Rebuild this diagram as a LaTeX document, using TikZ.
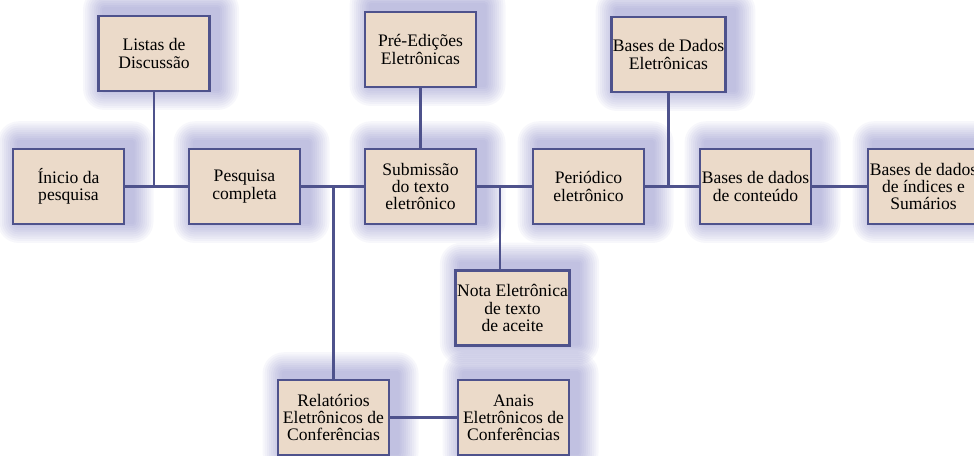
\documentclass[tikz,border=0pt]{standalone}
\usepackage{fontspec}
\setmainfont{Liberation Serif}
\usepackage{xcolor}
\definecolor{boxfill}{RGB}{235,218,201}
\definecolor{boxline}{RGB}{78,82,140}
\definecolor{glow}{RGB}{80,80,170}
\usetikzlibrary{positioning,calc,backgrounds}

\begin{document}
\begin{tikzpicture}[
  item/.style={draw=boxline,line width=1.6pt,fill=boxfill,minimum width=2.22cm,
    minimum height=1.5cm,align=center,font=\fontsize{10}{9.8}\selectfont,inner sep=1pt},
  link/.style={draw=boxline,line width=1.7pt}
]
  \useasboundingbox (0,0) rectangle (19.48,-9.12);
  % top row
  \node[item] (listas) at (3.08,-1.07) {Listas de\\Discussão};
  \node[item] (preed) at (8.41,-0.99) {Pré-Edições\\Eletrônicas};
  \node[item] (bdeletr) at (13.37,-1.09) {Bases de Dados\\Eletrônicas};
  % main row
  \node[item] (inicio) at (1.37,-3.73) {Ínicio da\\pesquisa};
  \node[item] (pesquisa) at (4.89,-3.73) {Pesquisa\\completa};
  \node[item] (submissao) at (8.41,-3.73) {Submissão\\do texto\\eletrônico};
  \node[item] (periodico) at (11.77,-3.73) {Periódico\\eletrônico};
  \node[item] (conteudo) at (15.11,-3.73) {Bases de dados\\de conteúdo};
  \node[item] (indices) at (18.47,-3.73) {Bases de dados\\de índices e\\Sumários};
  % lower rows
  \node[item] (nota) at (10.25,-6.16) {Nota Eletrônica\\de texto\\de aceite};
  \node[item] (relatorios) at (6.67,-8.35) {Relatórios\\Eletrônicos de\\Conferências};
  \node[item] (anais) at (10.27,-8.35) {Anais\\Eletrônicos de\\Conferências};
  \coordinate (jnota) at (10.0,-3.73);

  % soft glow behind the boxes
  \begin{scope}[on background layer]
    \foreach \n in {listas,preed,bdeletr,inicio,pesquisa,submissao,periodico,conteudo,indices,nota,relatorios,anais}
      \foreach \r in {1,...,10}
        \fill[glow,opacity=0.045,rounded corners=1.2*\r pt]
          ([shift={(4pt-1.2*\r pt,2pt-1.2*\r pt)}]\n.south west)
          rectangle ([shift={(4pt+1.2*\r pt,3pt+1.2*\r pt)}]\n.north east);
  \end{scope}

  \draw[link] (inicio) -- (pesquisa);
  \draw[link] (pesquisa) -- (submissao);
  \draw[link] (submissao) -- (periodico);
  \draw[link] (periodico) -- (conteudo);
  \draw[link] (conteudo) -- (indices);
  \draw[link] (listas.south) -- (listas.south |- inicio.east);
  \draw[link] (preed) -- (submissao);
  \draw[link] (bdeletr.south) -- (bdeletr.south |- periodico.east);
  \draw[link] (relatorios.north) -- (relatorios.north |- pesquisa.east);
  \draw[link] (jnota) -- (jnota |- nota.north);
  \draw[link] (relatorios) -- (anais);
\end{tikzpicture}
\end{document}
